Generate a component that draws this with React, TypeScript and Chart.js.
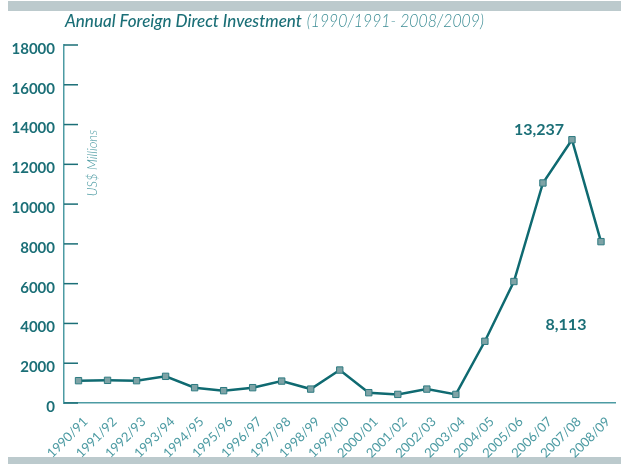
import React, { useEffect, useRef } from "react";
import { Chart, registerables } from "chart.js";

Chart.register(...registerables);

const categories = [
  "1990/91", "1991/92", "1992/93", "1993/94", "1994/95", "1995/96", "1996/97",
  "1997/98", "1998/99", "1999/00", "2000/01", "2001/02", "2002/03", "2003/04",
  "2004/05", "2005/06", "2006/07", "2007/08", "2008/09",
];
const fdiValues = [
  1123, 1139, 1123, 1340, 771, 620, 771, 1103, 700, 1657, 519, 433, 700, 433,
  3103, 6108, 11063, 13237, 8113,
];
const yTickValues = [0, 2000, 4000, 6000, 8000, 10000, 12000, 14000, 16000, 18000];
const titleMain = "Annual Foreign Direct Investment";
const titleSub = "(1990/1991- 2008/2009)";
const yAxisTitle = "US$ Millions";
const annotatedIndices = [17, 18];

const TEAL = "#1b6f77";
const TEAL_MID = "#3d8d95";
const TEAL_LIGHT = "#4d9ba3";
const BAR = "#bccacd";

const decorPlugin = {
  id: "decor",
  beforeDraw(chart: any) {
    const ctx = chart.ctx;
    ctx.save();
    ctx.fillStyle = "#ffffff";
    ctx.fillRect(0, 0, chart.width, chart.height);
    ctx.fillStyle = BAR;
    ctx.fillRect(8, 1, chart.width - 8, 10);
    ctx.fillRect(8, 457, chart.width - 8, 7);
    // title
    ctx.textBaseline = "alphabetic";
    ctx.textAlign = "left";
    ctx.font = "italic 500 17px Lato";
    ctx.fillStyle = TEAL;
    ctx.fillText(titleMain, 65, 27, 240);
    const w = Math.min(ctx.measureText(titleMain).width, 240) + 5;
    ctx.font = "italic 300 17px Lato";
    ctx.fillStyle = TEAL_MID;
    ctx.fillText(titleSub, 65 + w, 27, 177);
    ctx.restore();
  },
  afterDatasetsDraw(chart: any) {
    const ctx = chart.ctx;
    const y = chart.scales.y;
    const left = y.right;
    ctx.save();
    ctx.fillStyle = TEAL;
    yTickValues.forEach((v) => {
      const py = y.getPixelForValue(v);
      ctx.fillRect(left, py - 0.75, 14, 1.5);
    });
    ctx.restore();
  },
  afterDraw(chart: any) {
    const ctx = chart.ctx;
    const y = chart.scales.y;
    const x = chart.scales.x;
    // y axis title
    ctx.save();
    ctx.translate(93, 163);
    ctx.rotate(-Math.PI / 2);
    ctx.font = "italic 300 13px Lato";
    ctx.fillStyle = TEAL_LIGHT;
    ctx.textAlign = "center";
    ctx.textBaseline = "middle";
    ctx.fillText(yAxisTitle, 0, 0);
    ctx.restore();
    // annotations
    ctx.save();
    ctx.font = "bold 16px Lato";
    ctx.fillStyle = TEAL;
    ctx.textAlign = "center";
    ctx.textBaseline = "middle";
    const offsets = [[-33, -10], [-35, 83]];
    annotatedIndices.forEach((idx, k) => {
      const px = x.getPixelForValue(idx);
      const py = y.getPixelForValue(fdiValues[idx]);
      ctx.fillText(fdiValues[idx].toLocaleString("en-US"), px + offsets[k][0], py + offsets[k][1]);
    });
    ctx.restore();
  },
};

export default function App() {
  const ref = useRef<HTMLCanvasElement>(null);
  useEffect(() => {
    if (!ref.current) return;
    const chart = new Chart(ref.current, {
      type: "line",
      data: {
        labels: categories,
        datasets: [
          {
            data: fdiValues,
            borderColor: "#0f6a71",
            borderWidth: 2.5,
            pointStyle: "rect",
            pointRadius: 4.5,
            pointBackgroundColor: "#7ea3a6",
            pointBorderColor: "#2d7a80",
            pointBorderWidth: 1,
            tension: 0,
          },
        ],
      },
      options: {
        responsive: false,
        animation: false,
        devicePixelRatio: 1,
        layout: { padding: { left: 0, right: 3, top: 45, bottom: 0 } },
        plugins: { legend: { display: false }, tooltip: { enabled: false } },
        scales: {
          x: {
            offset: true,
            grid: { display: false, drawTicks: false },
            border: { display: true, color: TEAL_LIGHT, width: 1.5 },
            ticks: {
              color: TEAL_LIGHT,
              font: { family: "Lato", size: 13 },
              maxRotation: 45,
              minRotation: 45,
              autoSkip: false,
              padding: 11,
              labelOffset: 7,
            },
            afterFit(scale: any) {
              scale.height = 61;
              scale.paddingLeft = 0;
              scale.paddingRight = 0;
            },
          },
          y: {
            min: 0,
            max: 18000,
            grid: { display: false, drawTicks: false },
            border: { display: true, color: TEAL_LIGHT, width: 1.5 },
            ticks: {
              stepSize: 2000,
              color: TEAL,
              font: { family: "Lato", size: 15, weight: "bold" },
              padding: 9,
              labelOffset: 4,
              callback: (v: any) => String(v),
            },
            afterFit(scale: any) {
              scale.width = 64;
              scale.paddingTop = 0;
              scale.paddingBottom = 0;
            },
          },
        },
      },
      plugins: [decorPlugin],
    });
    return () => chart.destroy();
  }, []);
  return (
    <div style={{ position: "absolute", left: 0, top: 0, width: 621, height: 464 }}>
      <canvas ref={ref} width={621} height={464} style={{ display: "block" }} />
    </div>
  );
}
